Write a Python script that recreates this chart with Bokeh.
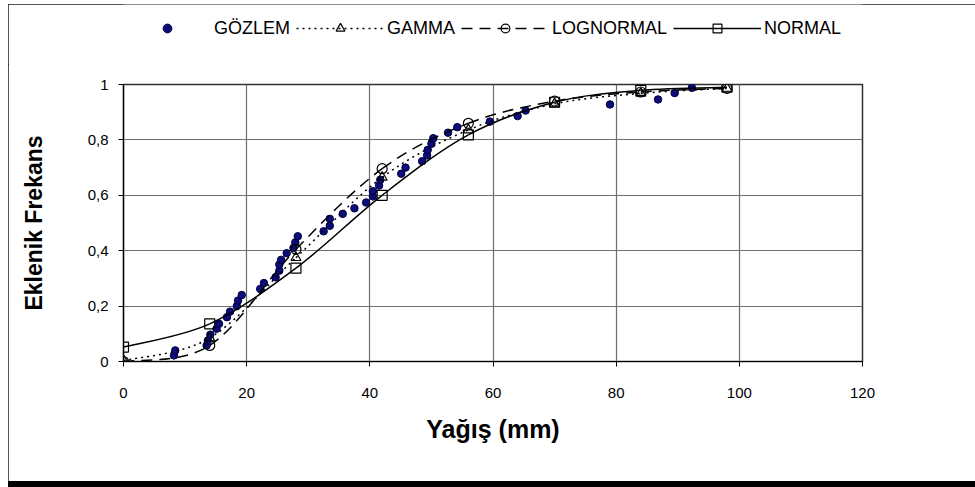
from bokeh.plotting import figure
from bokeh.models import (Legend, LegendItem, FixedTicker, Range1d)
from bokeh.layouts import column
from bokeh.embed import file_html
from bokeh.resources import INLINE

# --- data ---
obs_x = [8.2, 8.4, 13.5, 13.7, 14.1, 15.1, 15.5, 16.8, 17.3, 18.4, 18.6, 19.2,
         22.2, 22.8, 24.7, 25.3, 25.3, 25.6, 26.5, 27.6, 27.9, 28.3, 32.5, 33.5,
         33.5, 35.6, 37.5, 39.4, 40.5, 40.5, 41.5, 41.7, 45.1, 45.8, 48.5, 49.3,
         49.4, 50.0, 50.3, 52.7, 54.2, 59.5, 64.0, 65.3, 79.0, 86.8, 89.5, 92.3]
obs_y = [0.022, 0.040, 0.058, 0.076, 0.097, 0.118, 0.136, 0.160, 0.180, 0.200, 0.220, 0.240,
         0.262, 0.283, 0.304, 0.328, 0.350, 0.367, 0.391, 0.410, 0.430, 0.452, 0.470, 0.490,
         0.515, 0.533, 0.553, 0.574, 0.596, 0.615, 0.635, 0.656, 0.678, 0.700, 0.723, 0.744,
         0.764, 0.786, 0.806, 0.826, 0.846, 0.866, 0.886, 0.906, 0.928, 0.946, 0.969, 0.988]

model_x = [0, 14, 28, 42, 56, 70, 84, 98]
gamma_y = [0.003, 0.085, 0.375, 0.665, 0.836, 0.930, 0.968, 0.986]
lognormal_y = [0.000, 0.058, 0.405, 0.696, 0.860, 0.940, 0.973, 0.986]
normal_y = [0.052, 0.136, 0.337, 0.600, 0.818, 0.936, 0.979, 0.990]

x_ticks = [0, 20, 40, 60, 80, 100, 120]
y_ticks = [0, 0.2, 0.4, 0.6, 0.8, 1.0]
y_tick_labels = ["0", "0,2", "0,4", "0,6", "0,8", "1"]

FONT = "Liberation Sans"
W = 968          # chart area starts at page x=8
TOP_H = 60       # legend strip (page y 4..64)
MAIN_H = 417     # main chart (page y 64..481)

# ---------------- main chart ----------------
p = figure(width=W, height=MAIN_H, output_backend="svg", toolbar_location=None,
           x_range=Range1d(0, 120), y_range=Range1d(0, 1),
           min_border_left=115, min_border_right=114, min_border_top=20,
           min_border_bottom=120)
p.background_fill_color = "white"
p.border_fill_color = "white"
p.outline_line_color = "#303030"
p.outline_line_width = 1.5

p.xgrid.ticker = FixedTicker(ticks=x_ticks)
p.ygrid.ticker = FixedTicker(ticks=y_ticks)
p.xgrid.grid_line_color = "#6e6e6e"
p.ygrid.grid_line_color = "#6e6e6e"
p.xgrid.grid_line_width = 1.2
p.ygrid.grid_line_width = 1.2

p.xaxis.ticker = FixedTicker(ticks=x_ticks)
p.yaxis.ticker = FixedTicker(ticks=y_ticks)
p.yaxis.major_label_overrides = {t: l for t, l in zip(y_ticks, y_tick_labels)}
for ax in (p.xaxis[0], p.yaxis[0]):
    ax.axis_line_color = "black"
    ax.axis_line_width = 1.2
    ax.major_tick_line_color = "black"
    ax.major_tick_out = 5
    ax.major_tick_in = 0
    ax.minor_tick_line_color = None
    ax.major_label_text_font = FONT
    ax.major_label_text_font_size = "15px"
    ax.major_label_text_color = "black"
    ax.axis_label_text_font = FONT
    ax.axis_label_text_font_style = "bold"
    ax.axis_label_text_color = "black"
p.yaxis.axis_label_text_font_size = "23px"
p.xaxis.axis_label_text_font_size = "25px"
p.xaxis.axis_label = "Yağış (mm)"
p.yaxis.axis_label = "Eklenik Frekans"
p.xaxis.major_label_standoff = 21
p.xaxis.axis_label_standoff = 14
p.yaxis.major_label_standoff = 10
p.yaxis.axis_label_standoff = 38


def bezier_ctrl(xs, ys, k=1 / 6):
    n = len(xs)
    out = dict(x0=[], y0=[], x1=[], y1=[], cx0=[], cy0=[], cx1=[], cy1=[])
    for i in range(n - 1):
        im1 = max(i - 1, 0)
        ip2 = min(i + 2, n - 1)
        out["x0"].append(xs[i]); out["y0"].append(ys[i])
        out["x1"].append(xs[i + 1]); out["y1"].append(ys[i + 1])
        out["cx0"].append(xs[i] + (xs[i + 1] - xs[im1]) * k)
        out["cy0"].append(ys[i] + (ys[i + 1] - ys[im1]) * k)
        out["cx1"].append(xs[i + 1] - (xs[ip2] - xs[i]) * k)
        out["cy1"].append(ys[i + 1] - (ys[ip2] - ys[i]) * k)
    return out


styles = [
    ("GAMMA", gamma_y, "2 4", "triangle"),
    ("LOGNORMAL", lognormal_y, "11 7", "circle"),
    ("NORMAL", normal_y, "solid", "square"),
]

OBS_STYLE = dict(size=7.5, marker="circle", fill_color="#0c0c7a",
                 line_color="#000040", line_width=1)
p.scatter(obs_x, obs_y, **OBS_STYLE)
for name, ys, dash, marker in styles:
    b = bezier_ctrl(model_x, ys)
    p.bezier(x0=b["x0"], y0=b["y0"], x1=b["x1"], y1=b["y1"],
             cx0=b["cx0"], cy0=b["cy0"], cx1=b["cx1"], cy1=b["cy1"],
             line_color="black", line_width=1.5, line_dash=dash)
    p.scatter(model_x, ys, marker=marker, size=10, fill_alpha=0,
              line_color="black", line_width=1.2)

# ---------------- legend strip (frame aligned with the main chart) ----------------
lg = figure(width=W, height=TOP_H, output_backend="svg", toolbar_location=None,
            x_range=Range1d(0, 1), y_range=Range1d(0, 1),
            x_axis_type=None, y_axis_type=None,
            min_border_left=0, min_border_right=0, min_border_top=0,
            min_border_bottom=0)
lg.outline_line_color = None
lg.xgrid.visible = False
lg.ygrid.visible = False
lg.border_fill_color = "white"

# legend-only renderers: one point each, placed outside the visible range
OFF = [-5]
items = [LegendItem(label="GÖZLEM", renderers=[lg.scatter(x=OFF, y=OFF, **OBS_STYLE)])]
for name, ys, dash, marker in styles:
    ln = lg.line(x=OFF, y=OFF, line_color="black", line_width=1.5, line_dash=dash)
    mk = lg.scatter(x=OFF, y=OFF, marker=marker, size=10, fill_alpha=0,
                    line_color="black", line_width=1.2)
    items.append(LegendItem(label=name, renderers=[ln, mk]))

legend = Legend(items=items, orientation="horizontal", location=(0, 25),
                glyph_width=88, glyph_height=22, label_standoff=3, spacing=6,
                padding=4, margin=0, border_line_color=None,
                background_fill_alpha=0,
                label_text_font=FONT, label_text_font_size="18px",
                label_text_color="black")
lg.add_layout(legend, "center")

layout = column(lg, p, spacing=0)
layout.styles = {"transform": "translate(8px, 4px)",
                 "outline": "1px solid #1a1a1a", "outline-offset": "-1px",
                 "box-shadow": "0 6px 0 0 black"}

open("out.html", "w").write(file_html(layout, INLINE))
